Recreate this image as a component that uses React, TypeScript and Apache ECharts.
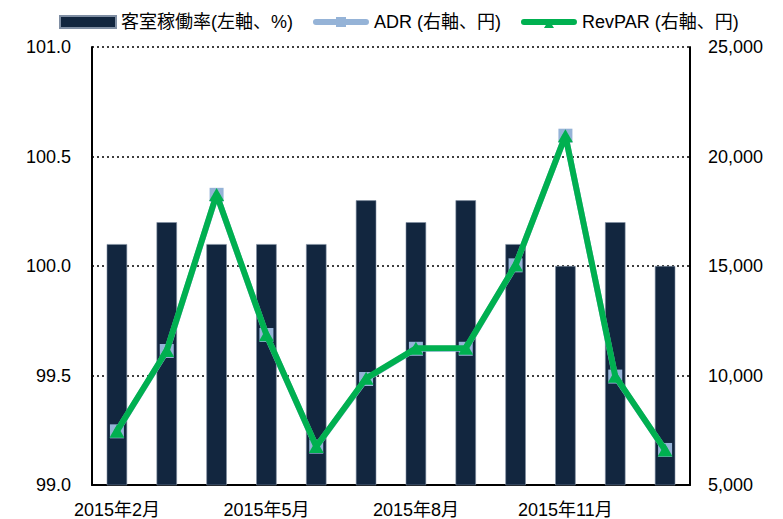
import React, { useEffect, useRef } from "react";
import * as echarts from "echarts";

const categories = [
  "2015年2月", "2015年3月", "2015年4月", "2015年5月", "2015年6月", "2015年7月",
  "2015年8月", "2015年9月", "2015年10月", "2015年11月", "2015年12月", "2016年1月",
];
const occupancy = [100.1, 100.2, 100.1, 100.1, 100.1, 100.3, 100.2, 100.3, 100.1, 100.0, 100.2, 100.0];
const adr = [7450, 11120, 18250, 11850, 6750, 9840, 11220, 11220, 15030, 20950, 9950, 6600];
const revpar = [7460, 11140, 18270, 11860, 6760, 9870, 11240, 11250, 15040, 20950, 9970, 6600];
const leftTicks = [99.0, 99.5, 100.0, 100.5, 101.0];
const rightTicks = [5000, 10000, 15000, 20000, 25000];

const FONT = "'Liberation Sans', Arial, 'Noto Sans CJK JP', sans-serif";

const ADR_ICON =
  "path://M3,3 L23,3 L23,1 L33,1 L33,3 L53,3 A3,3 0 0 1 53,9 L33,9 L33,11 L23,11 L23,9 L3,9 A3,3 0 0 1 3,3 Z";
const REV_ICON =
  "path://M3,3 L53,3 A3,3 0 0 1 53,9 L3,9 A3,3 0 0 1 3,3 Z M28,4 L33,12 L23,12 Z M0,0 L0.01,0 L0.01,0.01 Z M56,12 L55.99,12 L55.99,11.99 Z";

export default function App() {
  const ref = useRef<HTMLDivElement>(null);
  useEffect(() => {
    const chart = echarts.init(ref.current!, null, { renderer: "svg" });
    chart.setOption({
      animation: false,
      textStyle: { fontFamily: FONT },
      legend: {
        left: 54,
        top: 8,
        itemGap: 20,
        itemWidth: 56,
        itemHeight: 12,
        textStyle: { fontSize: 18, color: "#000", fontFamily: FONT },
        data: [
          { name: "客室稼働率(左軸、%)", icon: "rect" },
          { name: "ADR (右軸、円)", icon: ADR_ICON },
          { name: "RevPAR (右軸、円)", icon: REV_ICON },
        ],
      },
      grid: { left: 92, right: 93, top: 47, bottom: 34, containLabel: false },
      xAxis: {
        type: "category",
        data: categories,
        axisLine: { lineStyle: { color: "#000", width: 2 } },
        axisTick: { show: false },
        axisLabel: {
          interval: 2,
          fontSize: 18,
          color: "#000",
          margin: 16,
          fontFamily: FONT,
        },
      },
      yAxis: [
        {
          type: "value",
          min: leftTicks[0],
          max: leftTicks[leftTicks.length - 1],
          interval: 0.5,
          axisLine: { show: true, lineStyle: { color: "#000", width: 2 } },
          axisTick: { show: false },
          axisLabel: {
            fontSize: 18,
            color: "#000",
            margin: 21,
            formatter: (v: number) => v.toFixed(1),
          },
          splitLine: { show: true, lineStyle: { color: "#000", type: [2, 3], width: 1.5 } },
        },
        {
          type: "value",
          min: rightTicks[0],
          max: rightTicks[rightTicks.length - 1],
          interval: 5000,
          axisLine: { show: true, lineStyle: { color: "#000", width: 2 } },
          axisTick: { show: false },
          axisLabel: {
            fontSize: 18,
            color: "#000",
            margin: 18,
            formatter: (v: number) => v.toLocaleString("en-US"),
          },
          splitLine: { show: false },
        },
      ],
      series: [
        {
          name: "客室稼働率(左軸、%)",
          type: "bar",
          yAxisIndex: 0,
          data: occupancy,
          barWidth: "41%",
          itemStyle: { color: "#12263F", borderColor: "#7f8ea3", borderWidth: 0.6 },
          z: 1,
        },
        {
          name: "ADR (右軸、円)",
          type: "line",
          yAxisIndex: 1,
          data: adr,
          symbol: "rect",
          symbolSize: 14,
          lineStyle: { color: "#95B3D7", width: 6, cap: "round" },
          itemStyle: { color: "#95B3D7" },
          z: 3,
        },
        {
          name: "RevPAR (右軸、円)",
          type: "line",
          yAxisIndex: 1,
          data: revpar,
          symbol: "triangle",
          symbolSize: [15, 13],
          lineStyle: { color: "#00B050", width: 6, cap: "round" },
          itemStyle: { color: "#00B050" },
          z: 4,
        },
      ],
    });
    return () => chart.dispose();
  }, []);
  return <div ref={ref} style={{ width: 783, height: 519, position: "absolute", left: 0, top: 0 }} />;
}
